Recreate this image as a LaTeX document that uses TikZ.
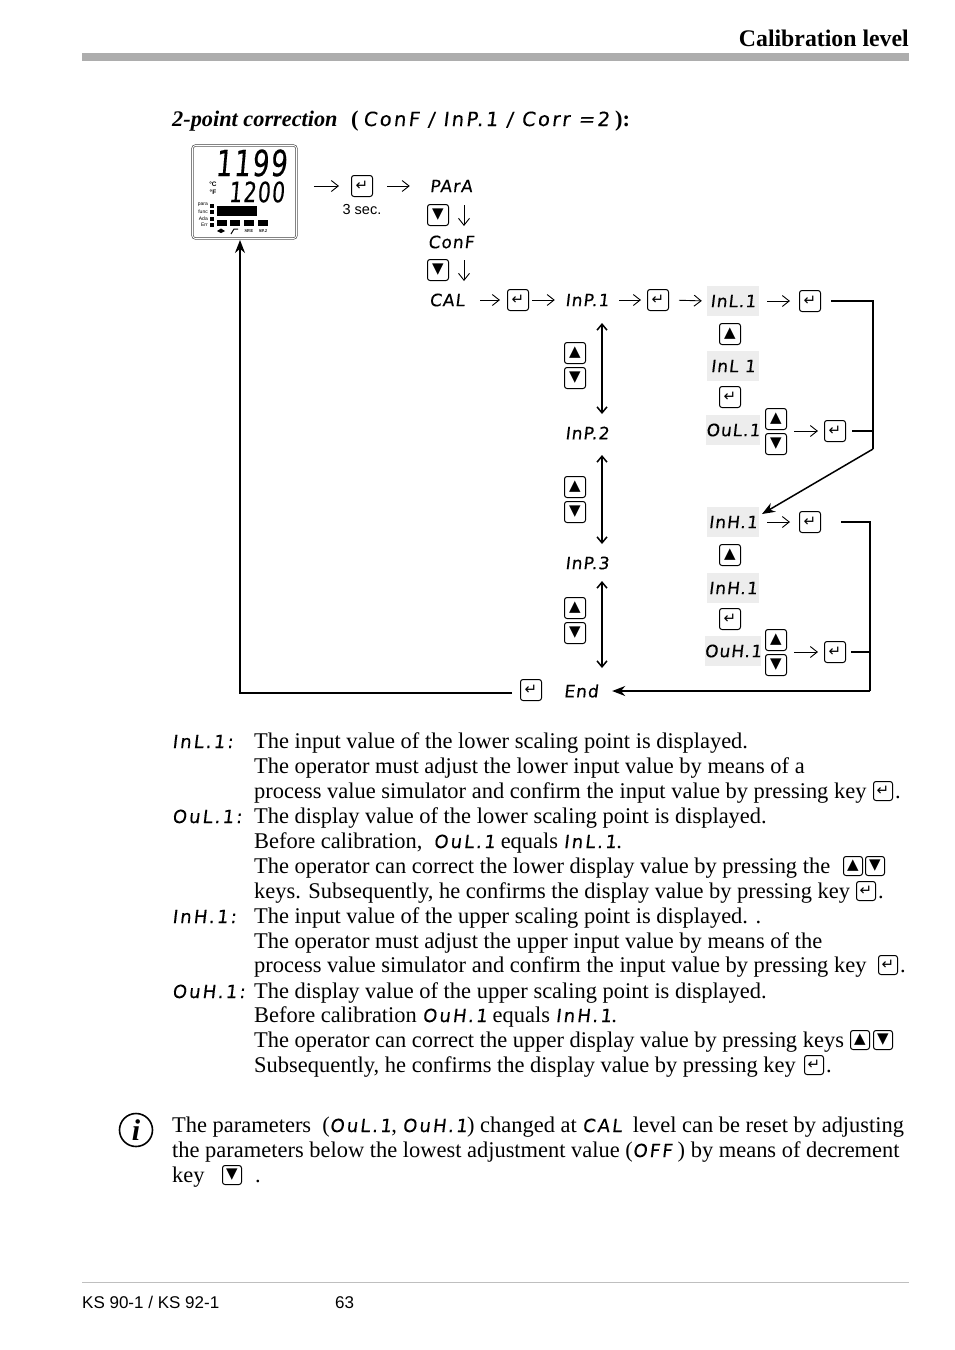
\documentclass[tikz,border=0pt]{standalone}
\usepackage{graphicx}
\usepackage{fontspec}
\setmainfont{Liberation Serif}
\setsansfont{Liberation Sans}
\newfontfamily\segfont[FakeSlant=0.12,FakeBold=0.3,LetterSpace=12]{DejaVu Sans}
\newfontfamily\flowfont[FakeSlant=0.12,FakeBold=0.3,LetterSpace=6]{DejaVu Sans}
\newfontfamily\keyfont{DejaVu Sans}
\usetikzlibrary{arrows.meta, positioning}
\newcommand{\seg}[1]{{\segfont\fontsize{18}{25}\selectfont #1}}
\newcommand{\bigseg}[2]{\scalebox{.73}[1]{\flowfont\fontsize{#1}{#1}\selectfont #2}}
\begin{document}
\begin{tikzpicture}[
    x=1pt, y=-1pt,
    every node/.style={inner sep=0pt},
    keybox/.style={draw, rounded corners=2.5pt, line width=1pt, fill=white, minimum size=21pt, font=\keyfont\fontsize{15}{15}\selectfont},
    segbox/.style={minimum width=52pt, minimum height=30pt, font=\flowfont\fontsize{17}{17}\selectfont},
    segbg/.style={segbox, fill=black!7},
    body/.style={anchor=base west, font=\fontsize{22.45}{25}\selectfont},
    tiny/.style={anchor=east, font=\sffamily\fontsize{5}{5}\selectfont},
    lamp/.style={fill=black, minimum width=10pt, minimum height=6pt},
    dot/.style={fill=black, minimum size=4pt},
    thinarr/.style={-{Straight Barb[length=7pt,width=11pt]}, line width=0.9pt},
    dblarr/.style={{Straight Barb[length=6pt,width=10pt]}-{Straight Barb[length=6pt,width=10pt]}, line width=1.5pt},
    arr/.style={-{Stealth[length=13pt,width=10pt]}, line width=1.5pt},
    wire/.style={line width=1.5pt},
]
\useasboundingbox (0,0) rectangle (954,1350);

% Page head and foot
\node[anchor=base east, font=\bfseries\fontsize{23.8}{25}\selectfont] (head) at (909,46) {Calibration level};
\node[fill=black!32, minimum width=827pt, minimum height=8pt, anchor=north west] (headbar) at (82,53) {};
\node[fill=black!25, minimum width=827pt, minimum height=1pt, anchor=north west] (footbar) at (82,1282) {};
\node[anchor=base west, font=\sffamily\fontsize{17}{20}\selectfont] (model) at (82,1308) {KS 90-1 / KS 92-1};
\node[anchor=base west, font=\sffamily\fontsize{17}{20}\selectfont] (page) at (335,1308) {63};

% Title
\node[body, font=\bfseries\itshape\fontsize{22.3}{25}\selectfont] (title) at (172,126) {2-point correction};
\node[body, font=\bfseries\fontsize{22.5}{25}\selectfont] (titlea) at (351,126) {(};
\node[anchor=base west, font=\segfont\fontsize{19.5}{25}\selectfont] (titleb) at (363,126) {ConF / InP.1 / Corr =2};
\node[body, font=\bfseries\fontsize{22.5}{25}\selectfont] (titlec) at (615,126) {):};

% Controller front
\node[draw=black!75, line width=0.6pt, double, double distance=1pt, rounded corners=3pt, minimum width=104pt, minimum height=93pt] (disp) at (244.5,192) {};
\node (pv) at (251,163) {\bigseg{36}{1199}};
\node (sp) at (256.5,192) {\bigseg{28}{1200}};
\node[font=\sffamily\bfseries\fontsize{6.5}{7.5}\selectfont, align=center] (unit) at (213,188) {°C\\°F};
\node[tiny] (lpara) at (208,205) {para};
\node[tiny] (lfunc) at (208,212) {func};
\node[tiny] (lada) at (208,219) {Ada};
\node[tiny] (lerr) at (208,225) {Err};
\node[dot] (dpara) at (212,206) {};
\node[dot] (dfunc) at (212,212) {};
\node[dot] (dada) at (212,219) {};
\node[dot] (derr) at (212,225) {};
\node[fill=black, minimum width=40pt, minimum height=10pt, anchor=north west] (bargraph) at (217,206) {};
\node[lamp] (lamp1) at (222,223) {};
\node[lamp] (lamp2) at (235,223) {};
\node[lamp] (lamp3) at (249,223) {};
\node[lamp] (lamp4) at (263,223) {};
\fill (217,231) -- (221,228.5) -- (225,231) -- (221,233) -- cycle;
\draw[line width=1pt] (231,234) -- (234,229) -- (238,229);
\node[font=\bfseries\fontsize{4.5}{5}\selectfont] (spe) at (249,231) {SP.E};
\node[font=\bfseries\fontsize{4.5}{5}\selectfont] (sptwo) at (263,231) {SP.2};

% Level selection
\node[keybox] (ksec) at (362,186) {↵};
\node[below=7pt of ksec, font=\sffamily\fontsize{14.5}{16}\selectfont] (sec) {3 sec.};
\node[segbox] (para) at (451,186) {PArA};
\node[keybox] (kd1) at (438,215) {▼};
\node[segbox, minimum height=20pt] (conf) at (451,242) {ConF};
\node[keybox] (kd2) at (438,270) {▼};
\node[segbox, minimum height=20pt] (cal) at (447,300) {CAL};
\coordinate (da1) at (464,205);
\coordinate (db1) at (464,226);
\coordinate (da2) at (464,260);
\coordinate (db2) at (464,281);
\draw[thinarr, shorten <=17pt, shorten >=12pt] (disp.east |- ksec) -- (ksec.west);
\draw[thinarr, shorten <=14pt, shorten >=15pt] (ksec.east) -- (para.west);
\draw[thinarr] (da1) -- (db1);
\draw[thinarr] (da2) -- (db2);

% Input selection
\node[keybox] (kcal) at (518,300) {↵};
\node[segbox] (inp1) at (587,300) {InP.1};
\node[keybox] (kinp) at (658,300) {↵};
\node[segbox] (inp2) at (587,433) {InP.2};
\node[segbox] (inp3) at (587,563) {InP.3};
\node[keybox] (ku1) at (575,353) {▲};
\node[keybox, below=3pt of ku1] (kd3) {▼};
\node[keybox] (ku2) at (575,487) {▲};
\node[keybox, below=3pt of ku2] (kd4) {▼};
\node[keybox] (ku3) at (575,608) {▲};
\node[keybox, below=3pt of ku3] (kd5) {▼};
\draw[thinarr, shorten <=7pt, shorten >=7pt] (cal.east) -- (kcal.west);
\draw[thinarr, shorten <=3pt, shorten >=6pt] (kcal.east) -- (inp1.west);
\draw[thinarr, shorten <=6pt, shorten >=6pt] (inp1.east) -- (kinp.west);
\coordinate (a1) at (602,323);
\coordinate (b1) at (602,414);
\coordinate (a2) at (602,455);
\coordinate (b2) at (602,544);
\coordinate (a3) at (602,581);
\coordinate (b3) at (602,668);
\draw[dblarr] (a1) -- (b1);
\draw[dblarr] (a2) -- (b2);
\draw[dblarr] (a3) -- (b3);

% Lower scaling point
\node[segbg] (inl) at (733,301) {InL.1};
\node[keybox] (kinl) at (810,301) {↵};
\node[keybox] (kul) at (730,334) {▲};
\node[segbg] (inlb) at (733,366) {InL 1};
\node[keybox] (kel) at (730,397) {↵};
\node[segbg] (oul) at (733,430) {OuL.1};
\node[keybox] (kuo) at (776,419) {▲};
\node[keybox, below=3pt of kuo] (kdo) {▼};
\node[keybox] (koul) at (835,431) {↵};
\draw[thinarr, shorten <=10pt, shorten >=5pt] (kinp.east) -- (inl.west);
\draw[thinarr, shorten <=8pt, shorten >=9pt] (inl.east) -- (kinl.west);
\draw[thinarr, shorten <=7pt, shorten >=6pt] (kuo.east |- koul) -- (koul.west);

% Upper scaling point
\node[segbg] (inh) at (733,522) {InH.1};
\node[keybox] (kinh) at (810,522) {↵};
\node[keybox] (kuh) at (730,555) {▲};
\node[segbg] (inhb) at (733,588) {InH.1};
\node[keybox] (keh) at (730,619) {↵};
\node[segbg] (ouh) at (733,651) {OuH.1};
\node[keybox] (kup) at (776,640) {▲};
\node[keybox, below=3pt of kup] (kdp) {▼};
\node[keybox] (kouh) at (835,652) {↵};
\draw[thinarr, shorten <=8pt, shorten >=9pt] (inh.east) -- (kinh.west);
\draw[thinarr, shorten <=7pt, shorten >=6pt] (kup.east |- kouh) -- (kouh.west);

% End of the level
\node[keybox] (kend) at (531,690) {↵};
\node[segbox, minimum width=38pt] (endl) at (581,691) {End};

% Return lines
\coordinate (c1) at (873,301);
\coordinate (c2) at (873,449);
\coordinate (c3) at (870,522);
\coordinate (c4) at (870,691);
\coordinate (dispin) at (240,693);
\coordinate (disptop) at (240,240);
\coordinate (inhtip) at (762,514);
\draw[wire, shorten <=10pt] (kinl.east) -- (c1) -- (c2);
\draw[arr] (c2) -- (inhtip);
\draw[wire, shorten <=6pt] (koul.east) -- (koul.east -| c1);
\draw[wire, shorten <=20pt] (kinh.east) -- (c3) -- (c4);
\draw[wire, shorten <=5pt] (kouh.east) -- (kouh.east -| c3);
\draw[arr, shorten >=12pt] (c4) -- (endl.east);
\draw[arr, shorten <=8pt] (kend.west |- dispin) -- (dispin) -- (disptop);

% Explanations
\node[anchor=base west] (t1) at (172,748) {\seg{InL.1:}};
\node[body] (l1) at (254,748) {The input value of the lower scaling point is displayed.};
\node[body] (l2) at (254,773) {The operator must adjust the lower input value by means of a};
\node[body] (l3) at (254,798) {process value simulator and confirm the input value by pressing key};
\node[keybox, minimum size=19pt] (kt1) at (883,791) {↵};
\node[body] (l3e) at (895,798) {.};
\node[anchor=base west] (t2) at (172,823) {\seg{OuL.1:}};
\node[body] (l4) at (254,823) {The display value of the lower scaling point is displayed.};
\node[body] (l5) at (254,848) {Before calibration, \ \seg{OuL.1} equals \seg{InL.1}.};
\node[body] (l6) at (254,873) {The operator can correct the lower display value by pressing the};
\node[keybox, minimum size=19pt] (kt2) at (853,866) {▲};
\node[keybox, minimum size=19pt] (kt3) at (875,866) {▼};
\node[body] (l7) at (254,898) {keys. Subsequently, he confirms the display value by pressing key};
\node[keybox, minimum size=19pt] (kt4) at (866,891) {↵};
\node[body] (l7e) at (878,898) {.};
\node[anchor=base west] (t3) at (172,923) {\seg{InH.1:}};
\node[body] (l8) at (254,923) {The input value of the upper scaling point is displayed. .};
\node[body] (l9) at (254,948) {The operator must adjust the upper input value by means of the};
\node[body] (l10) at (254,972) {process value simulator and confirm the input value by pressing key};
\node[keybox, minimum size=19pt] (kt5) at (888,965) {↵};
\node[body] (l10e) at (900,972) {.};
\node[anchor=base west] (t4) at (172,998) {\seg{OuH.1:}};
\node[body] (l11) at (254,998) {The display value of the upper scaling point is displayed.};
\node[body] (l12) at (254,1022) {Before calibration \seg{OuH.1} equals \seg{InH.1}.};
\node[body] (l13) at (254,1047) {The operator can correct the upper display value by pressing keys};
\node[keybox, minimum size=19pt] (kt6) at (860,1040) {▲};
\node[keybox, minimum size=19pt] (kt7) at (883,1040) {▼};
\node[body] (l14) at (254,1072) {Subsequently, he confirms the display value by pressing key};
\node[keybox, minimum size=19pt] (kt8) at (814,1065) {↵};
\node[body] (l14e) at (826,1072) {.};

% Note
\node[draw, circle, line width=1.6pt, minimum size=33pt, font=\bfseries\itshape\fontsize{30}{30}\selectfont] (info) at (136,1130) {i};
\node[body] (n1) at (172,1132) {The parameters \ (\seg{OuL.1}, \seg{OuH.1}) changed at \seg{CAL} \ level can be reset by adjusting};
\node[body] (n2) at (172,1157) {the parameters below the lowest adjustment value (\seg{OFF} ) by means of decrement};
\node[body] (n3) at (172,1182) {key};
\node[keybox, minimum size=19pt] (kt9) at (232,1175) {▼};
\node[body] (n3e) at (255,1182) {.};
\end{tikzpicture}
\end{document}
